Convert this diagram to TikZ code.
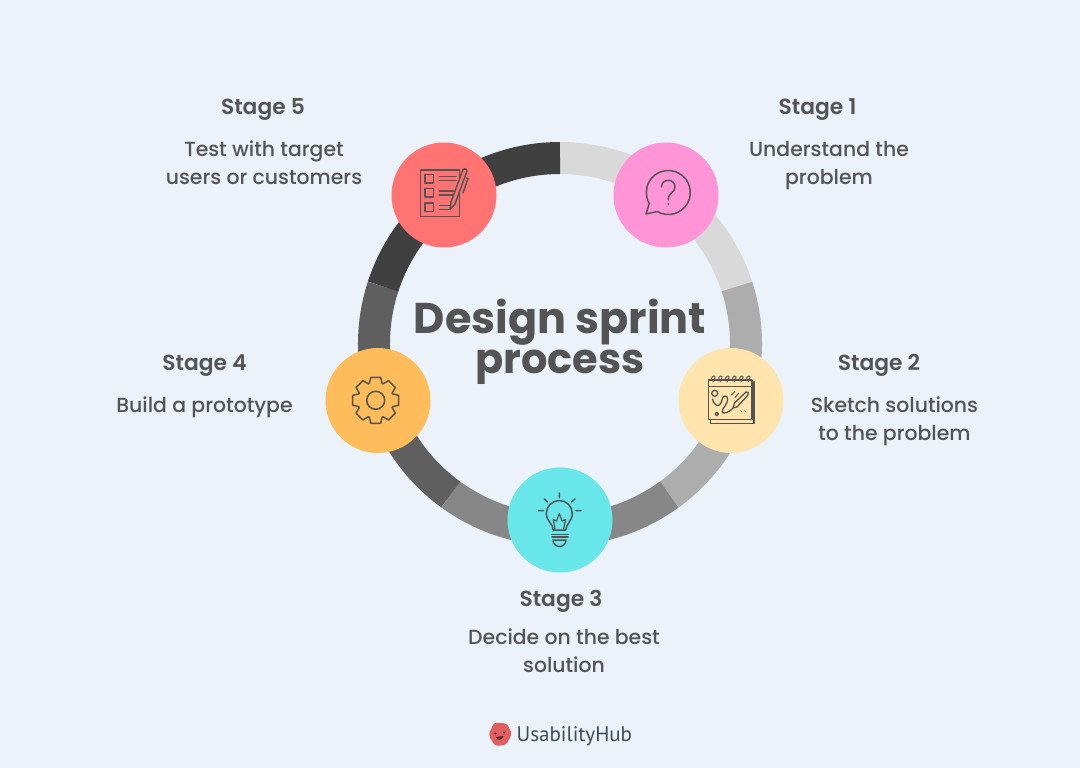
\documentclass[tikz,border=0pt]{standalone}
\usepackage{fontspec}
\setmainfont{Poppins}
\newfontfamily\bodyf{Poppins Medium}
\newfontfamily\headf{Poppins SemiBold}
\newfontfamily\titlef{Poppins Bold}
\newfontfamily\logof{PT Sans}
\definecolor{bgc}{HTML}{EBF2FA}
\definecolor{ink}{HTML}{545454}
\definecolor{segA}{HTML}{D9D9D9}
\definecolor{segB}{HTML}{ADADAD}
\definecolor{segC}{HTML}{878787}
\definecolor{segD}{HTML}{5F5F5F}
\definecolor{segE}{HTML}{404040}
\definecolor{cPink}{HTML}{FF94D6}
\definecolor{cYellow}{HTML}{FFE4AD}
\definecolor{cCyan}{HTML}{69E6EA}
\definecolor{cOrange}{HTML}{FFBC5A}
\definecolor{cRed}{HTML}{FF7373}
\definecolor{logoRed}{HTML}{E0605F}
\definecolor{logoInk}{HTML}{3E4A5A}
\tikzset{
  x=1pt,y=-1pt,
  stagehead/.style={text=ink,inner sep=0pt,anchor=base,font=\headf\fontsize{21.8}{28}\selectfont},
  stagebody/.style={text=ink,inner sep=0pt,anchor=base,align=center,font=\bodyf\fontsize{20.4}{28}\selectfont},
  titletext/.style={text=ink,inner sep=0pt,anchor=base,font=\titlef\fontsize{43}{40}\selectfont},
  disc/.style={circle,minimum size=105pt,inner sep=0pt},
  icon/.style={draw=ink,line width=1.5pt,line join=round,line cap=round},
  ringseg/.style={line width=32pt},
}
\begin{document}
\begin{tikzpicture}
\useasboundingbox (0,0) rectangle (1080,768);
\fill[bgc] (0,0) rectangle (1080,768);
% ring
\coordinate (ringc) at (560,344);
\foreach \s/\e/\c in {-90/-18/segA,-18/54/segB,54/126/segC,126/198/segD,198/270/segE}{
  \draw[ringseg,\c] (ringc) ++(\s:186) arc[start angle=\s,end angle=\e,radius=186];
}
% discs
\node[disc,fill=cPink] (d1) at (666,195) {};
\node[disc,fill=cYellow] (d2) at (731,400.5) {};
\node[disc,fill=cCyan] (d3) at (560,520) {};
\node[disc,fill=cOrange] (d4) at (378,400.5) {};
\node[disc,fill=cRed] (d5) at (444,195) {};
% title
\node[titletext] (title1) at (560,333.5) {Design sprint};
\node[titletext,font=\titlef\fontsize{41.5}{40}\selectfont] (title2) at (560,373) {process};
% labels
\node[stagehead] (h1) at (817.5,114) {Stage 1};
\node[stagebody] (b1) at (829,184) {Understand the\\problem};
\node[stagehead] (h2) at (879,370) {Stage 2};
\node[stagebody] (b2) at (894.5,440) {Sketch solutions\\to the problem};
\node[stagehead] (h3) at (561,606) {Stage 3};
\node[stagebody] (b3) at (564,672.3) {Decide on the best\\solution};
\node[stagehead] (h4) at (204.5,370) {Stage 4};
\node[stagebody] (b4) at (204.5,412) {Build a prototype};
\node[stagehead] (h5) at (263,114) {Stage 5};
\node[stagebody] (b5) at (264,184) {Test with target\\users or customers};
% question icon
\draw[icon] (668.3,192.5) ++(120:22) arc[start angle=120,end angle=-210,radius=22] -- (646,214) -- cycle;
\draw[icon] (661.5,187) .. controls (661.5,178) and (675,178) .. (675,187) .. controls (675,193) and (668.3,192) .. (668.3,200);
\fill[ink] (668.3,204) circle (1);
% checklist icon
\draw[icon] (420.3,170) rectangle (459.3,216.7);
\foreach \y in {174.3,188.7,203}{\draw[icon] (425,\y) rectangle (433.7,\y+8.5);}
\draw[icon] (439.3,176.7) -- (456,176.7) (439.3,180.7) -- (456,180.7)
  (439.3,191) -- (454,191) (439.3,195) -- (454,195)
  (439.3,205.3) -- (451.5,205.3) (439.3,209.3) -- (449,209.3);
\draw[icon,fill=cRed] (450,209.5) -- (451,202) -- (463,169.5) .. controls (464,167.5) and (467.5,168.5) .. (467,171) -- (455,204) -- cycle;
\draw[icon] (466.5,178) -- (468,178.5) -- (463,193);
% sketch icon
\draw[icon] (754,381.7) -- (754,423.3) -- (710.7,423.3) -- (710.7,419.3);
\draw[icon] (708.7,380) rectangle (751.8,419.3);
\draw[icon] (708.7,386.7) -- (751.8,386.7);
\foreach \x in {713,720,727,734,741,748}{
  \draw[icon,line width=1pt] (\x-1.5,380) .. controls (\x-2,375) and (\x+3,375) .. (\x+2,378) -- (\x,382);
}
\draw[icon,line width=1.3pt] (714.7,393.3) circle (3);
\draw[icon,line width=1.3pt] (716.7,414) circle (1.7);
\draw[icon,line width=1.3pt] (712.5,399) .. controls (714,406) and (719,407.5) .. (721,403)
  .. controls (722.5,399) and (722.5,396) .. (725,396)
  .. controls (729,396) and (728,402) .. (725,406)
  .. controls (722,410) and (721,413) .. (724,413)
  .. controls (728,413) and (731,410) .. (733,408);
\draw[icon,line width=1.3pt,fill=cYellow] (733,408) -- (734.5,403) -- (746,392) .. controls (748,391) and (749,393) .. (748,395) -- (737,407) -- cycle;
\draw[icon,line width=1pt] (731.5,395) -- (735,391.5) (735,397.5) -- (738.5,393.5) (740.7,410.7) -- (742,412) (744.7,410.7) -- (746,412);
% bulb icon
\draw[icon] (553.3,530) .. controls (553,524) and (546.5,521) .. (546.3,513.5) arc[start angle=180,end angle=360,radius=13] .. controls (572.3,521) and (566,524) .. (565.7,530) -- cycle;
\draw[icon,line width=1.2pt] (555,529.5) -- (553.3,519.5) -- (556.5,521) -- (559.3,513.5) -- (562,521) -- (565.5,519.5) -- (563.5,529.5);
\draw[icon] (552,534.5) -- (568,534.5) (552,537) -- (568,537);
\draw[icon] (553,540) -- (566,540) arc[start angle=0,end angle=180,radius=6.5] -- cycle;
\draw[icon] (559.3,493) -- (559.3,497.5) (544.5,499) -- (547.5,502) (575,499) -- (571.5,502) (538.5,510.7) -- (543.5,510.7) (576,510.7) -- (581,510.7);
% gear icon
\begin{scope}[shift={(375.7,400.3)}]
\draw[icon] (-21:18) \foreach \a in {0,45,...,315}{ -- (\a-21:18) -- (\a-12:23.5) -- (\a+12:23.5) -- (\a+21:18) } -- cycle;
\draw[icon] (0,0) circle (9);
\end{scope}
% logo
\fill[logoRed,rounded corners=3pt] (494,722.5) -- (507,723.5) -- (512,734) -- (506,745) -- (495,746) -- (488.5,735) -- cycle;
\fill[black!70!logoRed] (495.5,733.5) circle (1.1) (504,732.5) circle (1.1);
\fill[black!60!logoRed] (496,737) .. controls (497,741) and (502,741) .. (503.5,736) -- cycle;
\node[text=logoInk,inner sep=0pt,anchor=base west,font=\logof\fontsize{21}{26}\selectfont] (logo) at (516.5,741) {UsabilityHub};
\end{tikzpicture}
\end{document}
